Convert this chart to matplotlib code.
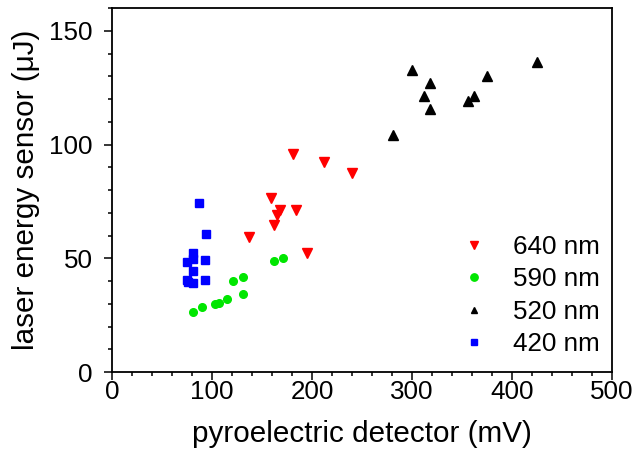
import matplotlib
matplotlib.use("Agg")
import matplotlib.pyplot as plt
from matplotlib.ticker import MultipleLocator

plt.rcParams['font.family'] = ['Liberation Sans', 'DejaVu Sans']

# 640 nm
x640 = [181, 212, 240, 159, 168, 184, 165, 162, 137, 195]
y640 = [95.9, 92.3, 87.5, 76.6, 71.2, 71.3, 69.2, 64.8, 59.4, 52.3]
# 590 nm
x590 = [81, 90, 103, 107, 115, 131, 121, 131, 162, 171]
y590 = [26.4, 28.4, 30.0, 30.4, 32.3, 34.1, 40.2, 41.8, 48.7, 50.0]
# 520 nm
x520 = [300, 318, 312, 318, 281, 356, 362, 375, 425]
y520 = [132.7, 127.2, 121.1, 115.8, 104.1, 119.3, 121.1, 130.0, 136.4]
# 420 nm
x420 = [87, 94, 81, 81, 75, 93, 81, 93, 75, 81, 76]
y420 = [74.5, 60.8, 52.3, 49.8, 48.2, 49.1, 44.6, 40.4, 40.5, 39.2, 39.4]

labels = ["640 nm", "590 nm", "520 nm", "420 nm"]

W, H = 633, 454
fig = plt.figure(figsize=(W/100, H/100), dpi=100)
ax = fig.add_axes([112/W, 1-372/H, 500/W, 364/H])

ax.plot(x640, y640, linestyle='none', marker='v', color='#ff0000', markersize=7.0, label=labels[0])
ax.plot(x590, y590, linestyle='none', marker='o', color='#00e600', markersize=5.5, label=labels[1])
ax.plot(x520, y520, linestyle='none', marker='^', color='black', markersize=7.0, label=labels[2])
ax.plot(x420, y420, linestyle='none', marker='s', color='#0000ff', markersize=5.3, label=labels[3])

ax.set_xlim(0, 500)
ax.set_ylim(0, 160)
ax.xaxis.set_major_locator(MultipleLocator(100))
ax.xaxis.set_minor_locator(MultipleLocator(20))
ax.yaxis.set_major_locator(MultipleLocator(50))
ax.yaxis.set_minor_locator(MultipleLocator(10))
ax.tick_params(which='both', direction='out', top=False, right=False, width=1.1, labelsize=18.7)
ax.tick_params(which='major', length=5.5)
ax.tick_params(which='minor', length=2.8)
ax.tick_params(axis='x', which='major', pad=0.5)
ax.tick_params(axis='y', which='major', pad=8.5)
for s in ax.spines.values():
    s.set_linewidth(1.3)

ax.set_xlabel("pyroelectric detector (mV)", fontsize=21.3)
ax.set_ylabel("laser energy sensor (μJ)", fontsize=21.3)
ax.xaxis.set_label_coords(0.5, (372 - 420) / 364)
ax.yaxis.set_label_coords((40 - 112) / 500, 0.5)

leg = ax.legend(loc='center', bbox_to_anchor=(530/W, 1-295.5/H), bbox_transform=fig.transFigure,
                frameon=False, fontsize=18.7, handletextpad=1.0, handlelength=1.0,
                labelspacing=0.33, borderpad=0.0, borderaxespad=0.0)
for h, ms in zip(leg.legend_handles, [5.6, 5.3, 5.0, 3.9]):
    h.set_markersize(ms)

fig.savefig("out.png", dpi=100)
